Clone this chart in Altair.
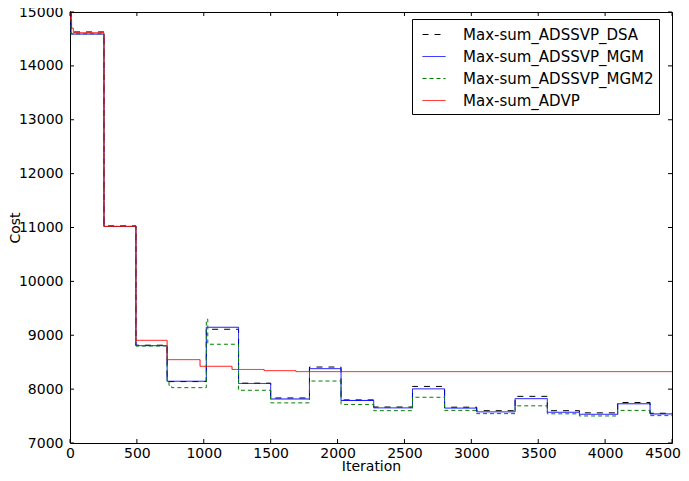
import altair as alt
import pandas as pd

# ---------------- data ----------------
series_names = ["Max-sum_ADSSVP_DSA", "Max-sum_ADSSVP_MGM", "Max-sum_ADSSVP_MGM2", "Max-sum_ADVP"]

iters_common = [0, 8, 254, 493, 726, 1019, 1260, 1500, 1790, 2026, 2270, 2560, 2800,
                3040, 3327, 3568, 3808, 4094, 4336, 4500]
dsa_vals = [15000, 14630, 11030, 8815, 8140, 9111, 8110, 7836, 8410, 7800, 7668, 8050,
            7665, 7600, 7866, 7600, 7560, 7752, 7552, 7552]
mgm_vals = [15000, 14590, 11020, 8807, 8146, 9148, 8105, 7817, 8380, 7790, 7652, 8005,
            7648, 7578, 7823, 7570, 7533, 7728, 7539, 7539]

mgm2_iters = [0, 8, 254, 493, 726, 740, 760, 1019, 1030, 1260, 1500, 1790, 2026, 2270,
              2560, 2800, 3040, 3327, 3568, 3808, 4094, 4336, 4500]
mgm2_vals = [15000, 14595, 11020, 8800, 8140, 8070, 8027, 9297, 8833, 7979, 7745, 8150,
             7716, 7600, 7849, 7605, 7545, 7690, 7542, 7502, 7605, 7508, 7508]

advp_iters = [0, 5, 12, 25, 254, 493, 726, 972, 1211, 1451, 1689, 4500]
advp_vals = [15000, 14850, 14700, 14615, 11020, 8906, 8547, 8424, 8365, 8343, 8325, 8325]

x_ticks = [0, 500, 1000, 1500, 2000, 2500, 3000, 3500, 4000, 4500]
y_ticks = [7000, 8000, 9000, 10000, 11000, 12000, 13000, 14000, 15000]

colors = ["#000000", "#0000ff", "#008000", "#ff0000"]
dashes = [[6, 6], [1, 0], [4, 3], [1, 0]]

# ---------------- build table ----------------
rows = []
for name, its, vals in [
    (series_names[0], iters_common, dsa_vals),
    (series_names[1], iters_common, mgm_vals),
    (series_names[2], mgm2_iters, mgm2_vals),
    (series_names[3], advp_iters, advp_vals),
]:
    for i, v in zip(its, vals):
        rows.append({"series": name, "iteration": i, "cost": v})
df = pd.DataFrame(rows)

W, H = 602, 431
FONT = "DejaVu Sans"
last_x = x_ticks[-1]

xscale = alt.Scale(domain=[0, 4500], nice=False, zero=False)
yscale = alt.Scale(domain=[7000, 15000], nice=False, zero=False)

lines = alt.Chart(df).mark_line(interpolate="step-after", strokeWidth=1).encode(
    x=alt.X("iteration:Q", scale=xscale,
            axis=alt.Axis(values=x_ticks, format="d", title="Iteration", ticks=False,
                          domain=False, grid=False, labelPadding=3, labelFlush=False,
                          labelFontSize=14,
                          labelAlign={"condition": {"test": f"datum.value == {last_x}",
                                                    "value": "right"},
                                      "value": "center"},
                          labelOffset={"condition": {"test": f"datum.value == {last_x}",
                                                     "value": 8.5},
                                       "value": 0},
                          titleX=W / 2, titleY=27.5, titleBaseline="alphabetic",
                          titleAlign="center", titleAnchor="middle")),
    y=alt.Y("cost:Q", scale=yscale,
            axis=alt.Axis(values=y_ticks, format="d", title="Cost", ticks=False,
                          domain=False, grid=False, labelPadding=7, labelFlush=False,
                          titleX=-51, titleY=H / 2, titleAngle=-90,
                          titleBaseline="alphabetic", titleAlign="center",
                          titleAnchor="middle")),
    color=alt.Color("series:N", scale=alt.Scale(domain=series_names, range=colors),
                    legend=alt.Legend(
                        title=None, orient="none", legendX=342, legendY=7,
                        strokeColor="#000000", padding=5, fillColor="#ffffff",
                        symbolType="M-0.5,0H1.8", symbolSize=400, symbolStrokeWidth=1,
                        labelOffset=25, rowPadding=3, labelFontSize=15, labelFont=FONT,
                        labelColor="#000000", labelLimit=0, cornerRadius=0)),
    strokeDash=alt.StrokeDash("series:N",
                              scale=alt.Scale(domain=series_names, range=dashes),
                              legend=None),
)

xt = pd.DataFrame({"t": x_ticks})
yt = pd.DataFrame({"t": y_ticks})
TL = 4
tick_bottom = alt.Chart(xt).mark_rule(color="black", strokeWidth=1).encode(
    x=alt.X("t:Q", scale=xscale), y=alt.value(H), y2=alt.value(H - TL))
tick_top = alt.Chart(xt).mark_rule(color="black", strokeWidth=1).encode(
    x=alt.X("t:Q", scale=xscale), y=alt.value(0), y2=alt.value(TL))
tick_left = alt.Chart(yt).mark_rule(color="black", strokeWidth=1).encode(
    y=alt.Y("t:Q", scale=yscale), x=alt.value(0), x2=alt.value(TL))
tick_right = alt.Chart(yt).mark_rule(color="black", strokeWidth=1).encode(
    y=alt.Y("t:Q", scale=yscale), x=alt.value(W), x2=alt.value(W - TL))

chart = alt.layer(lines, tick_bottom, tick_top, tick_left, tick_right).properties(
    width=W, height=H,
    autosize=alt.AutoSizeParams(type="none"),
    padding={"left": 62, "top": 4, "right": 9, "bottom": 30},
).configure_view(
    stroke="#000000", strokeWidth=1
).configure_axis(
    labelFont=FONT, titleFont=FONT, labelFontSize=14, titleFontSize=14,
    labelColor="#000000", titleColor="#000000", titleFontWeight="normal",
)

chart.save("out.html", embed_options={"renderer": "svg", "actions": False})
